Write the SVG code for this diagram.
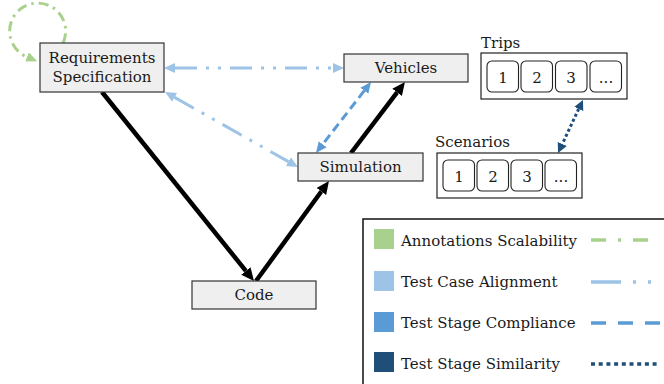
<svg xmlns="http://www.w3.org/2000/svg" width="664" height="384" viewBox="0 0 664 384" font-family="'DejaVu Serif', serif" font-size="15">
<style>
text{fill:#1a1a1a}
.node{fill:#efefef;stroke:#333;stroke-width:1.2}
.frame{fill:#fff;stroke:#222;stroke-width:1.2}
.cell{fill:#fff;stroke:#222;stroke-width:1.1}
.c{text-anchor:middle}
.blk{stroke:#000;stroke-width:4.5;fill:none}
.tca{stroke:#9dc3e6;stroke-width:3;fill:none;stroke-dasharray:22 9 3 9 3 9}
.tsc{stroke:#5b9bd5;stroke-width:3;fill:none;stroke-dasharray:9 5}
.tss{stroke:#1f4e79;stroke-width:3;fill:none;stroke-dasharray:3 2.5}
.asc{stroke:#a9d18e;stroke-width:3;fill:none;stroke-dasharray:10 5 2.5 5}
</style>
<defs>
<marker id="ab" markerUnits="userSpaceOnUse" markerWidth="16" markerHeight="14" refX="0" refY="6" orient="auto"><path d="M0,0 L13,6 L0,12 z" fill="#000"/></marker>
<marker id="alb" markerUnits="userSpaceOnUse" markerWidth="12" markerHeight="12" refX="0" refY="5" orient="auto-start-reverse"><path d="M0,0 L11,5 L0,10 z" fill="#9dc3e6"/></marker>
<marker id="amb" markerUnits="userSpaceOnUse" markerWidth="12" markerHeight="12" refX="0" refY="5" orient="auto-start-reverse"><path d="M0,0 L11,5 L0,10 z" fill="#5b9bd5"/></marker>
<marker id="adb" markerUnits="userSpaceOnUse" markerWidth="12" markerHeight="12" refX="0" refY="5" orient="auto-start-reverse"><path d="M0,0 L10,5 L0,10 z" fill="#1f4e79"/></marker>
<marker id="ag" markerUnits="userSpaceOnUse" markerWidth="12" markerHeight="12" refX="0" refY="5" orient="auto"><path d="M0,0 L11,5 L0,10 z" fill="#a9d18e"/></marker>
</defs>

<g id="connectors">
<path class="asc" d="M63,43 A28,28 0 1 0 27,57" marker-end="url(#ag)"/>
<line class="blk" x1="102" y1="92" x2="245.85" y2="270.9" marker-end="url(#ab)"/>
<line class="blk" x1="256" y1="281" x2="321.3" y2="191.5" marker-end="url(#ab)"/>
<line class="blk" x1="351" y1="153" x2="397.1" y2="92.35" marker-end="url(#ab)"/>
<line class="tca" x1="175" y1="68" x2="333" y2="68" marker-start="url(#alb)" marker-end="url(#alb)"/>
<line class="tca" x1="174.6" y1="97.4" x2="288.4" y2="161.6" marker-start="url(#alb)" marker-end="url(#alb)"/>
<line class="tsc" x1="364.3" y1="90.7" x2="322.7" y2="144.3" marker-start="url(#amb)" marker-end="url(#amb)"/>
<line class="tss" x1="578.7" y1="109" x2="562.3" y2="144" marker-start="url(#adb)" marker-end="url(#adb)"/>
</g>

<g id="requirements">
<rect class="node" x="40" y="43" width="124" height="49"/>
<text class="c" x="102" y="63">Requirements</text>
<text class="c" x="102" y="82">Specification</text>
</g>
<g id="vehicles">
<rect class="node" x="344" y="54" width="124" height="28"/>
<text class="c" x="406" y="73">Vehicles</text>
</g>
<g id="simulation">
<rect class="node" x="298" y="153" width="125" height="28"/>
<text class="c" x="360.5" y="172">Simulation</text>
</g>
<g id="code">
<rect class="node" x="192" y="281" width="124" height="28"/>
<text class="c" x="254" y="300">Code</text>
</g>

<g id="trips">
<text x="481" y="48">Trips</text>
<rect class="frame" x="481" y="53" width="146" height="46"/>
<rect class="cell" x="487" y="61" width="31.5" height="31" rx="5"/>
<rect class="cell" x="521" y="61" width="31.5" height="31" rx="5"/>
<rect class="cell" x="555.5" y="61" width="31.5" height="31" rx="5"/>
<rect class="cell" x="590" y="61" width="31.5" height="31" rx="5"/>
<text class="c" x="503" y="83">1</text>
<text class="c" x="537" y="83">2</text>
<text class="c" x="571" y="83">3</text>
<text class="c" x="606" y="83">...</text>
</g>

<g id="scenarios">
<text x="435" y="147">Scenarios</text>
<rect class="frame" x="437" y="153" width="145" height="45"/>
<rect class="cell" x="443" y="160" width="31.5" height="31" rx="5"/>
<rect class="cell" x="477" y="160" width="31.5" height="31" rx="5"/>
<rect class="cell" x="511" y="160" width="31.5" height="31" rx="5"/>
<rect class="cell" x="545" y="160" width="31.5" height="31" rx="5"/>
<text class="c" x="459" y="182">1</text>
<text class="c" x="493" y="182">2</text>
<text class="c" x="527" y="182">3</text>
<text class="c" x="561" y="182">...</text>
</g>

<g id="legend">
<rect x="363" y="219" width="400" height="200" fill="#fff" stroke="#111" stroke-width="1.5"/>
<rect x="374" y="229" width="20" height="20" fill="#a9d18e"/>
<rect x="374" y="271" width="20" height="20" fill="#9dc3e6"/>
<rect x="374" y="312" width="20" height="20" fill="#5b9bd5"/>
<rect x="374" y="352" width="20" height="20" fill="#1f4e79"/>
<text x="401" y="246">Annotations Scalability</text>
<text x="401" y="287">Test Case Alignment</text>
<text x="401" y="328">Test Stage Compliance</text>
<text x="401" y="369">Test Stage Similarity</text>
<line x1="591" y1="240" x2="660" y2="240" stroke="#a9d18e" stroke-width="3.5" stroke-dasharray="15 12 3 12"/>
<line x1="591" y1="282" x2="663" y2="282" stroke="#9dc3e6" stroke-width="3.5" stroke-dasharray="30 12 3 12 3 12"/>
<line x1="591" y1="323" x2="660" y2="323" stroke="#5b9bd5" stroke-width="3.5" stroke-dasharray="15 12"/>
<line x1="591" y1="364" x2="660" y2="364" stroke="#1f4e79" stroke-width="3.5" stroke-dasharray="4 3.7"/>
</g>
</svg>
